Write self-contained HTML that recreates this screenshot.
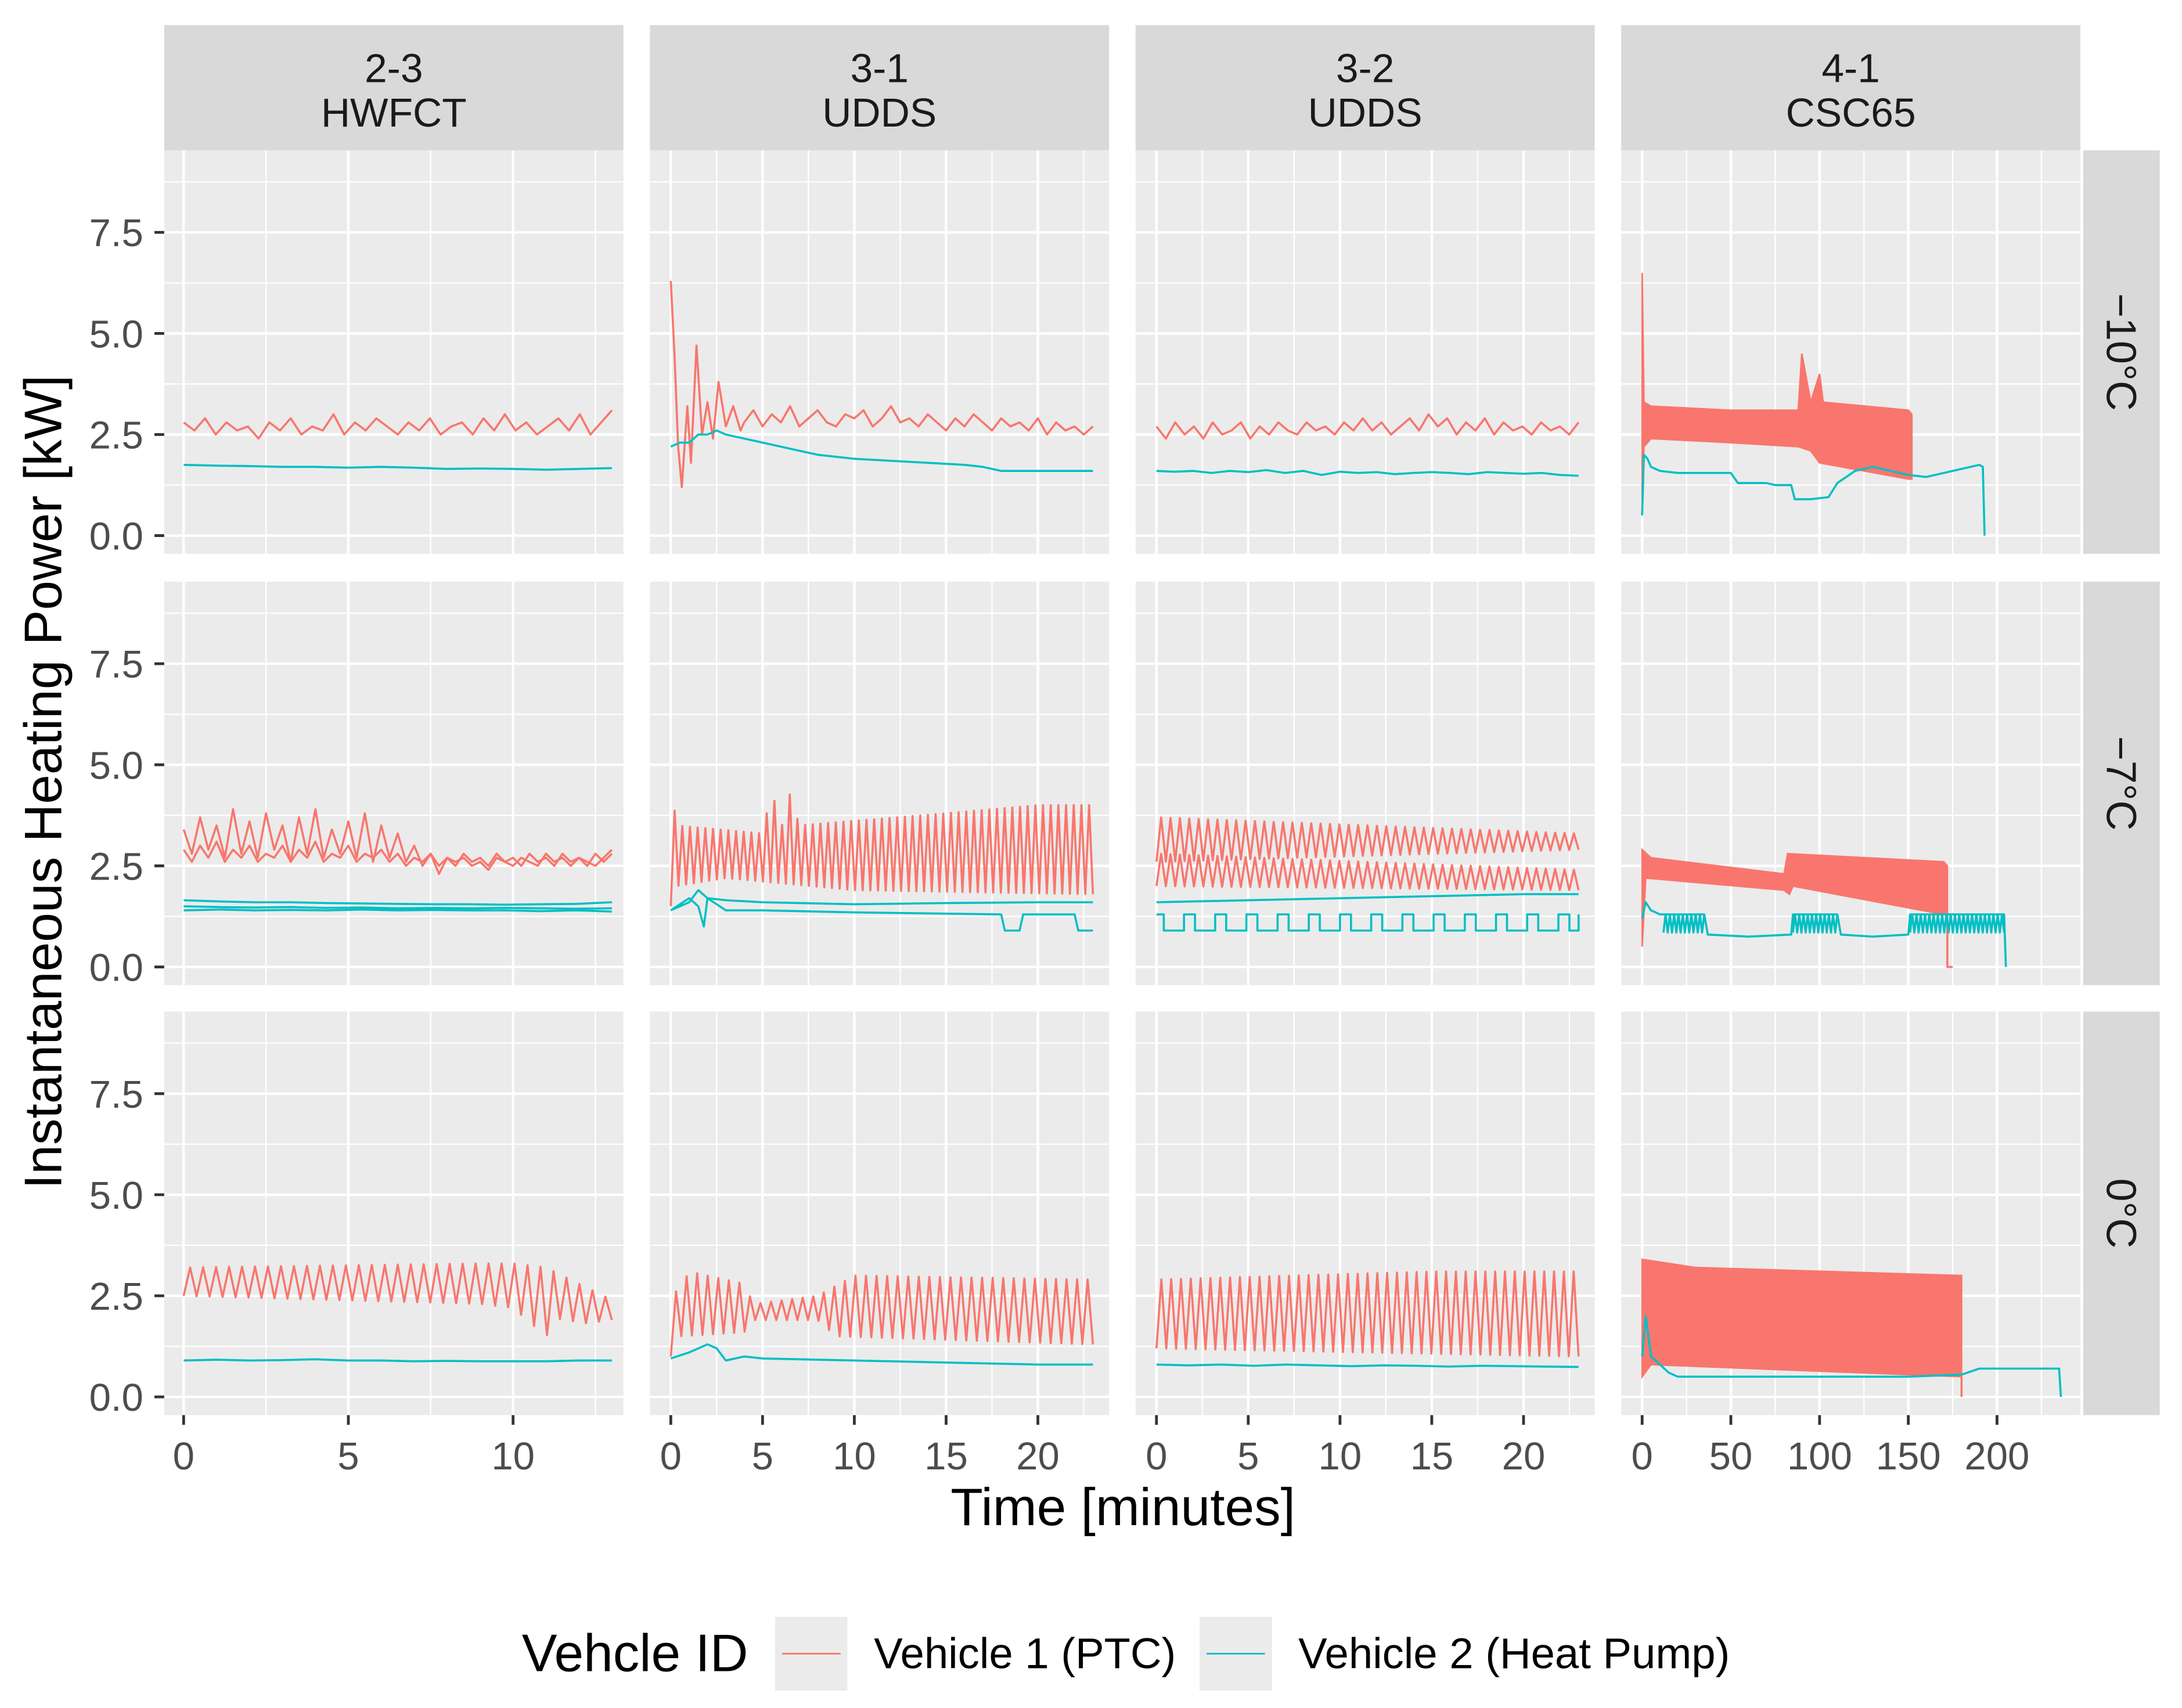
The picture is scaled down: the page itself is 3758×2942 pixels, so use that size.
<!DOCTYPE html>
<html><head><meta charset="utf-8"><style>
html,body{margin:0;padding:0;background:#fff;}
svg{display:block;font-family:"Liberation Sans",Arial,sans-serif;}
</style></head><body>
<svg id="chart" width="3758" height="2942" viewBox="0 0 1568 1227.5" xmlns="http://www.w3.org/2000/svg"></svg>
<script>
// ---------- data ----------
const cols = ["2-3\nHWFCT","3-1\nUDDS","3-2\nUDDS","4-1\nCSC65"];
const rows = ["\u221210\u00B0C","\u22127\u00B0C","0\u00B0C"];
const yTicks = [0,2.5,5,7.5];
const yTickLabels = ["0.0","2.5","5.0","7.5"];
const xTicksC1 = [0,5,10];
const xTicksC2 = [0,5,10,15,20];
const xTicksC4 = [0,50,100,150,200];

const ptc_m10_c1 = [0,13,[2.8,2.6,2.9,2.5,2.8,2.6,2.7,2.4,2.8,2.6,2.9,2.5,2.7,2.6,3.0,2.5,2.8,2.6,2.9,2.7,2.5,2.8,2.6,2.9,2.5,2.7,2.8,2.5,2.9,2.6,3.0,2.6,2.8,2.5,2.7,2.9,2.6,3.0,2.5,2.8,3.1]];
const hp_m10_c1 = [0,13,[1.75,1.73,1.72,1.7,1.7,1.68,1.7,1.68,1.65,1.66,1.65,1.63,1.65,1.67]];
const ptc_m10_c2a = [[0,6.3],[0.2,4.5],[0.4,2.2],[0.6,1.2],[0.9,3.2],[1.1,1.8],[1.4,4.7],[1.7,2.5],[2,3.3],[2.3,2.4],[2.6,3.8],[3,2.7],[3.4,3.2],[3.8,2.6]];
const ptc_m10_c2b = [4,23,[2.8,3.1,2.7,3.0,2.8,3.2,2.7,2.9,3.1,2.8,2.7,3.0,2.9,3.1,2.7,2.9,3.2,2.8,2.9,2.7,3.0,2.8,2.6,2.9,2.7,3.0,2.8,2.6,2.9,2.7,2.8,2.6,2.9,2.5,2.8,2.6,2.7,2.5,2.7]];
const hp_m10_c2 = [[0,2.2],[0.5,2.3],[1,2.3],[1.5,2.5],[2,2.5],[2.5,2.6],[3,2.5],[4,2.4],[5,2.3],[6,2.2],[7,2.1],[8,2.0],[10,1.9],[12,1.85],[14,1.8],[16,1.75],[17,1.7],[18,1.6],[20,1.6],[22,1.6],[23,1.6]];
const ptc_m10_c3 = [0,23,[2.7,2.4,2.8,2.5,2.7,2.4,2.8,2.5,2.6,2.8,2.4,2.7,2.5,2.8,2.6,2.5,2.8,2.6,2.7,2.5,2.8,2.6,2.9,2.6,2.8,2.5,2.7,2.9,2.6,3.0,2.7,2.9,2.5,2.8,2.6,2.9,2.5,2.8,2.6,2.7,2.5,2.8,2.6,2.7,2.5,2.8]];
const hp_m10_c3 = [0,23,[1.6,1.58,1.6,1.55,1.6,1.57,1.62,1.55,1.6,1.5,1.58,1.55,1.57,1.52,1.55,1.57,1.55,1.52,1.57,1.55,1.53,1.55,1.5,1.48]];
const ptc_m10_c4_lo = [[0,0.5],[1,2.2],[5,2.4],[50,2.3],[88,2.2],[95,2.1],[100,1.8],[125,1.6],[150,1.4],[152,1.4]];
const ptc_m10_c4_hi = [[0,6.5],[1,3.3],[5,3.2],[50,3.1],[88,3.1],[90,4.5],[95,3.3],[100,4.0],[102,3.3],[150,3.1],[152,3.0]];
const hp_m10_c4 = [[0,0.5],[1,2],[3,1.9],[5,1.7],[10,1.6],[20,1.55],[50,1.55],[54,1.3],[70,1.3],[75,1.25],[84,1.25],[86,0.9],[95,0.9],[105,0.95],[110,1.3],[120,1.6],[130,1.7],[140,1.6],[150,1.5],[160,1.45],[175,1.6],[190,1.75],[192,1.7],[193,0]];

const ptc_m7_c1a = [0,13,[3.4,2.8,3.7,2.9,3.5,2.7,3.9,2.8,3.6,2.7,3.8,2.9,3.5,2.6,3.7,2.8,3.9,2.7,3.4,2.8,3.6,2.7,3.8,2.6,3.5,2.7,3.3,2.6,3.0,2.5,2.8,2.3,2.7,2.5,2.8,2.6,2.7,2.5,2.8,2.6,2.7,2.5,2.8,2.6,2.7,2.5,2.8,2.6,2.7,2.5,2.8,2.6,2.8]];
const ptc_m7_c1b = [0,13,[2.9,2.6,3.0,2.7,3.1,2.6,2.9,2.7,3.0,2.6,2.8,2.7,3.0,2.6,2.9,2.7,3.1,2.6,2.8,2.7,3.0,2.6,2.8,2.7,2.9,2.6,2.8,2.5,2.7,2.6,2.8,2.5,2.7,2.6,2.7,2.5,2.6,2.4,2.7,2.6,2.5,2.7,2.6,2.5,2.8,2.6,2.7,2.5,2.7,2.6,2.5,2.7,2.9]];
const hp_m7_c1a = [0,13,[1.65,1.62,1.6,1.6,1.58,1.57,1.56,1.55,1.55,1.54,1.55,1.56,1.6]];
const hp_m7_c1b = [0,13,[1.5,1.48,1.47,1.48,1.46,1.47,1.45,1.46,1.45,1.46,1.45,1.44,1.45]];
const hp_m7_c1c = [0,13,[1.4,1.42,1.4,1.41,1.4,1.42,1.4,1.41,1.4,1.4,1.38,1.4,1.37]];
const ptc_m7_c2_lo = [[0,1.5],[0.3,2.0],[3,2.2],[10,1.9],[23,1.8]];
const ptc_m7_c2_hi = [[0,4.7],[0.3,3.5],[5,3.3],[5.5,4.4],[6,3.4],[6.5,4.3],[7,3.5],[15,3.8],[20,4.0],[23,4.0]];
const hp_m7_c2a = [[0,1.4],[1,1.6],[1.5,1.9],[2,1.7],[3,1.65],[5,1.6],[10,1.55],[15,1.58],[20,1.6],[23,1.6]];
const hp_m7_c2b = [[0,1.4],[1,1.7],[1.5,1.5],[1.8,1.0],[2,1.7],[3,1.4],[5,1.4],[10,1.35],[18,1.3],[18.2,0.9],[19,0.9],[19.2,1.3],[22,1.3],[22.2,0.9],[23,0.9]];
const ptc_m7_c3a_lo = [[0,2.6],[23,2.9]];
const ptc_m7_c3a_hi = [[0,3.7],[23,3.3]];
const ptc_m7_c3b_lo = [[0,2.0],[23,1.9]];
const ptc_m7_c3b_hi = [[0,2.8],[23,2.4]];
const hp_m7_c3a = [[0,1.6],[5,1.65],[10,1.7],[15,1.75],[20,1.8],[23,1.8]];
const hp_m7_c3_pulses = [0.4,2.1,3.8,5.5,7.2,8.9,10.6,12.3,14.0,15.7,17.4,19.1,20.8,22.5];
const hp_m7_c3_hi = 1.3, hp_m7_c3_lo = 0.9;
const ptc_m7_c4_lo = [[0,0.5],[2,2.2],[80,1.9],[83,1.8],[85,2.0],[170,1.3],[172,1.3]];
const ptc_m7_c4_hi = [[0,2.9],[5,2.7],[80,2.3],[82,2.8],[170,2.6],[172,2.5]];
const hp_m7_c4 = [[0,1.2],[2,1.6],[5,1.4],[10,1.3],[35,1.3],[37,0.8],[60,0.75],[84,0.8],[85,1.3],[110,1.3],[112,0.8],[130,0.75],[150,0.8],[151,1.3],[204,1.3],[205,0]];
const hp_m7_c4_cycles = [[12,35],[85,110],[151,204]];

const ptc_0_c1_lo = [[0,2.5],[9,2.3],[10,2.2],[11,1.5],[11.5,2.0],[12,1.8],[13,1.9]];
const ptc_0_c1_hi = [[0,3.2],[9,3.3],[10,3.3],[11,3.2],[12,2.8],[13,2.4]];
const hp_0_c1 = [0,13,[0.9,0.92,0.9,0.91,0.93,0.9,0.9,0.88,0.89,0.88,0.88,0.88,0.9,0.9]];
const ptc_0_c2_lo = [[0,1.0],[0.5,1.5],[4,1.6],[4.5,1.9],[8,1.9],[9,1.5],[23,1.3]];
const ptc_0_c2_hi = [[0,5.1],[0.3,2.5],[1,3.1],[4,2.8],[4.5,2.3],[8,2.5],[10,3.0],[23,2.9]];
const hp_0_c2 = [[0,0.95],[1,1.1],[2,1.3],[2.5,1.2],[3,0.9],[4,1.0],[5,0.95],[10,0.9],[15,0.85],[20,0.8],[23,0.8]];
const ptc_0_c3_lo = [[0,1.2],[23,1.0]];
const ptc_0_c3_hi = [[0,2.9],[15,3.1],[23,3.1]];
const hp_0_c3 = [0,23,[0.8,0.78,0.8,0.77,0.8,0.78,0.76,0.78,0.77,0.75,0.77,0.76,0.75,0.74]];
const ptc_0_c4_lo = [[0,0.5],[5,0.8],[180,0.5]];
const ptc_0_c4_hi = [[0,3.4],[30,3.2],[180,3.0]];
const hp_0_c4 = [[0,1.0],[2,2.0],[5,1.0],[15,0.6],[20,0.5],[150,0.5],[180,0.55],[190,0.7],[235,0.7],[236,0]];

// ---------- layout ----------
const NS="http://www.w3.org/2000/svg";
const svg=document.getElementById('chart');
const colLeft=[118,467,816,1165], pw=330, rowTop=[108,418,727], ph=290;
const xDom=[[-0.59,13.35],[-1.14,23.88],[-1.14,23.88],[-11.8,247]];
const yDom=[-0.45,9.53];
const PTC="#F8766D", HP="#00BFC4";
function el(tag,attrs,parent){const e=document.createElementNS(NS,tag);for(const k in attrs)e.setAttribute(k,attrs[k]);(parent||svg).appendChild(e);return e;}
function xs(c,t){const d=xDom[c];return colLeft[c]+(t-d[0])/(d[1]-d[0])*pw;}
function ys(r,v){return rowTop[r]+ph-(v-yDom[0])/(yDom[1]-yDom[0])*ph;}
function uni(s){const [a,b,v]=s;return v.map((y,i)=>[a+(b-a)*i/(v.length-1),y]);}
function interp(arr,t){if(t<=arr[0][0])return arr[0][1];for(let i=1;i<arr.length;i++){if(t<=arr[i][0]){const [t0,v0]=arr[i-1],[t1,v1]=arr[i];return v0+(v1-v0)*(t-t0)/(t1-t0);}}return arr[arr.length-1][1];}
function line(r,c,pts,color,name){
  const p=el('polyline',{points:pts.map(p=>xs(c,p[0]).toFixed(2)+","+ys(r,p[1]).toFixed(2)).join(" "),fill:"none",stroke:color,"stroke-width":1.5,"stroke-linejoin":"round"});
  
  
}
function zig(r,c,lo,hi,n,color,name){
  const t0=lo[0][0],t1=lo[lo.length-1][0];const pts=[];
  for(let i=0;i<=n;i++){const t=t0+(t1-t0)*i/n;pts.push([t,interp(i%2?hi:lo,t)]);}
  line(r,c,pts,color,name);
}
function band(r,c,lo,hi,color,name){
  const pts=hi.map(p=>[p[0],p[1]]).concat(lo.slice().reverse());
  const p=el('polygon',{points:pts.map(p=>xs(c,p[0]).toFixed(2)+","+ys(r,p[1]).toFixed(2)).join(" "),fill:color,stroke:color,"stroke-width":1.2});
  
  
}

const xTicksAll=[xTicksC1,xTicksC2,xTicksC2,xTicksC4];
const minorStep=[2.5,2.5,2.5,25];
for(let r=0;r<3;r++)for(let c=0;c<4;c++){
  const g=el('g',{});
  
  
  el('rect',{x:colLeft[c],y:rowTop[r],width:pw,height:ph,fill:"#EBEBEB"},g);
  for(let v=-1.25;v<9.5;v+=2.5){el('line',{x1:colLeft[c],x2:colLeft[c]+pw,y1:ys(r,v),y2:ys(r,v),stroke:"#fff","stroke-width":0.9},g);}
  yTicks.forEach(v=>el('line',{x1:colLeft[c],x2:colLeft[c]+pw,y1:ys(r,v),y2:ys(r,v),stroke:"#fff","stroke-width":1.8},g));
  const ms=minorStep[c];
  for(let t=-ms;t<xDom[c][1];t+=2*ms){if(t>xDom[c][0])el('line',{x1:xs(c,t),x2:xs(c,t),y1:rowTop[r],y2:rowTop[r]+ph,stroke:"#fff","stroke-width":0.9},g);}
  for(let t=ms;t<xDom[c][1];t+=2*ms){el('line',{x1:xs(c,t),x2:xs(c,t),y1:rowTop[r],y2:rowTop[r]+ph,stroke:"#fff","stroke-width":0.9},g);}
  xTicksAll[c].forEach(t=>el('line',{x1:xs(c,t),x2:xs(c,t),y1:rowTop[r],y2:rowTop[r]+ph,stroke:"#fff","stroke-width":1.8},g));
}
cols.forEach((s,c)=>{
  const g=el('g',{});
  
  
  el('rect',{x:colLeft[c],y:18,width:pw,height:90,fill:"#D9D9D9"},g);
  s.split("\n").forEach((ln,i)=>{const t=el('text',{x:colLeft[c]+pw/2,y:59+i*32,"text-anchor":"middle","font-size":29,fill:"#1A1A1A"},g);t.textContent=ln;});
});
rows.forEach((s,r)=>{
  const g=el('g',{});
  
  
  el('rect',{x:1497,y:rowTop[r],width:55,height:ph,fill:"#D9D9D9"},g);
  const cy=rowTop[r]+ph/2;
  const t=el('text',{x:1524,y:cy,"text-anchor":"middle","dominant-baseline":"central","font-size":30,fill:"#1A1A1A",transform:`rotate(90 1524 ${cy})`},g);t.textContent=s;
});
for(let r=0;r<3;r++)yTicks.forEach((v,i)=>{
  el('line',{x1:111,x2:118,y1:ys(r,v),y2:ys(r,v),stroke:"#333","stroke-width":2});
  const t=el('text',{x:103,y:ys(r,v)+10,"text-anchor":"end","font-size":28,fill:"#4D4D4D"});t.textContent=yTickLabels[i];
  
  
});
xTicksAll.forEach((arr,c)=>arr.forEach(v=>{
  const x=xs(c,v);
  el('line',{x1:x,x2:x,y1:1017,y2:1024,stroke:"#333","stroke-width":2});
  const t=el('text',{x:x,y:1056,"text-anchor":"middle","font-size":28,fill:"#4D4D4D"});t.textContent=v;
  
  
}));
let tt=el('text',{x:807,y:1096,"text-anchor":"middle","font-size":38,fill:"#000"});tt.textContent="Time [minutes]";


tt=el('text',{x:0,y:0,"text-anchor":"middle","font-size":38,fill:"#000",transform:"translate(44 562) rotate(-90)"});tt.textContent="Instantaneous Heating Power [kW]";



// ---------- series ----------
line(0,0,uni(ptc_m10_c1),PTC,'ptc-m10-hwfct');
line(0,0,uni(hp_m10_c1),HP,'hp-m10-hwfct');
line(0,1,ptc_m10_c2a.concat(uni(ptc_m10_c2b)),PTC,'ptc-m10-udds1');
line(0,1,hp_m10_c2,HP,'hp-m10-udds1');
line(0,2,uni(ptc_m10_c3),PTC,'ptc-m10-udds2');
line(0,2,uni(hp_m10_c3),HP,'hp-m10-udds2');
band(0,3,ptc_m10_c4_lo,ptc_m10_c4_hi,PTC,'ptc-m10-csc65');
line(0,3,hp_m10_c4,HP,'hp-m10-csc65');
line(1,0,uni(ptc_m7_c1a),PTC,'ptc-m7-hwfct-a');
line(1,0,uni(ptc_m7_c1b),PTC,'ptc-m7-hwfct-b');
line(1,0,uni(hp_m7_c1a),HP,'hp-m7-hwfct-a');
line(1,0,uni(hp_m7_c1b),HP,'hp-m7-hwfct-b');
line(1,0,uni(hp_m7_c1c),HP,'hp-m7-hwfct-c');
zig(1,1,ptc_m7_c2_lo,ptc_m7_c2_hi,110,PTC,'ptc-m7-udds1');
line(1,1,hp_m7_c2a,HP,'hp-m7-udds1-a');
line(1,1,hp_m7_c2b,HP,'hp-m7-udds1-b');
zig(1,2,ptc_m7_c3a_lo,ptc_m7_c3a_hi,90,PTC,'ptc-m7-udds2-a');
zig(1,2,ptc_m7_c3b_lo,ptc_m7_c3b_hi,90,PTC,'ptc-m7-udds2-b');
line(1,2,hp_m7_c3a,HP,'hp-m7-udds2-a');
(function(){const pts=[[0,hp_m7_c3_hi]];hp_m7_c3_pulses.forEach(p=>{pts.push([p,hp_m7_c3_hi],[p,hp_m7_c3_lo],[Math.min(p+1.1,23),hp_m7_c3_lo],[Math.min(p+1.1,23),hp_m7_c3_hi]);});line(1,2,pts,HP,'hp-m7-udds2-b');})();
band(1,3,ptc_m7_c4_lo,ptc_m7_c4_hi,PTC,'ptc-m7-csc65');
line(1,3,[[172,1.3],[172,0],[175,0]],PTC,'ptc-m7-csc65-end');
line(1,3,hp_m7_c4,HP,'hp-m7-csc65');
hp_m7_c4_cycles.forEach((s,i)=>zig(1,3,[[s[0],0.85],[s[1],0.85]],[[s[0],1.3],[s[1],1.3]],Math.round((s[1]-s[0])/1.2),HP,'hp-m7-csc65-cycle-'+i));
zig(2,0,ptc_0_c1_lo,ptc_0_c1_hi,66,PTC,'ptc-0-hwfct');
line(2,0,uni(hp_0_c1),HP,'hp-0-hwfct');
zig(2,1,ptc_0_c2_lo,ptc_0_c2_hi,80,PTC,'ptc-0-udds1');
line(2,1,hp_0_c2,HP,'hp-0-udds1');
zig(2,2,ptc_0_c3_lo,ptc_0_c3_hi,86,PTC,'ptc-0-udds2');
line(2,2,uni(hp_0_c3),HP,'hp-0-udds2');
band(2,3,ptc_0_c4_lo,ptc_0_c4_hi,PTC,'ptc-0-csc65');
line(2,3,[[180,0.5],[180,0]],PTC,'ptc-0-csc65-end');
line(2,3,hp_0_c4,HP,'hp-0-csc65');

// legend
const lg=el('g',{});


let lt=el('text',{x:375,y:1201,"font-size":38,fill:"#000"},lg);lt.textContent="Vehcle ID";
[[557,628,PTC,"Vehicle 1 (PTC)"],[862,933,HP,"Vehicle 2 (Heat Pump)"]].forEach((d,i)=>{
  const k=el('g',{},lg);
  
  
  el('rect',{x:d[0],y:1162,width:52,height:53,fill:"#EBEBEB"},k);
  el('line',{x1:d[0]+5,x2:d[0]+47,y1:1188.5,y2:1188.5,stroke:d[2],"stroke-width":1.2},k);
  const t=el('text',{x:d[1],y:1199,"font-size":31,fill:"#000"},k);t.textContent=d[3];
});
</script>
</body></html>
